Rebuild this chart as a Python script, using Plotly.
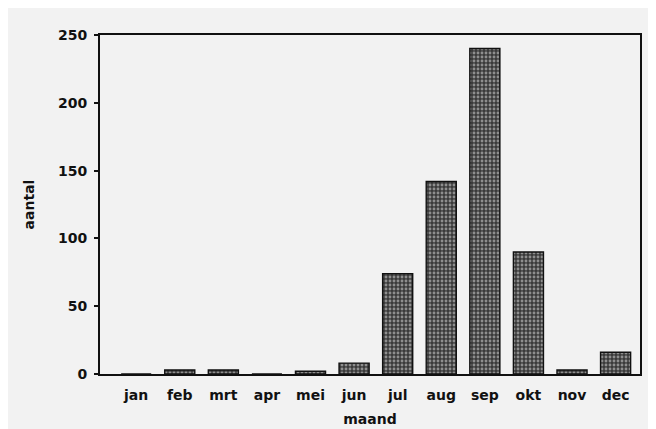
import plotly.graph_objects as go

months = ["jan", "feb", "mrt", "apr", "mei", "jun", "jul", "aug", "sep", "okt", "nov", "dec"]
values = [0, 3, 3, 0, 2, 8, 74, 142, 240, 90, 3, 16]
y_ticks = [0, 50, 100, 150, 200, 250]

font_family = "DejaVu Sans, Liberation Sans, Arial, sans-serif"

fig = go.Figure(
    go.Bar(
        x=months,
        y=values,
        width=0.69,
        marker=dict(
            color="#3a3a3a",
            line=dict(color="#111111", width=1.4),
            pattern=dict(shape=".", fgcolor="#e4e4e4", size=4, solidity=0.4, fillmode="overlay"),
        ),
    )
)

fig.update_layout(
    width=648,
    height=421,
    margin=dict(l=92, r=16, t=27, b=55),
    paper_bgcolor="#f2f2f2",
    plot_bgcolor="#f2f2f2",
    showlegend=False,
    font=dict(family=font_family, size=14, color="#111111", weight="bold"),
)

fig.update_xaxes(
    range=[-0.83, 11.56],
    automargin=False,
    showline=True, linecolor="#111111", linewidth=1.8, mirror=True,
    showgrid=False, ticks="", ticklabelstandoff=7,
    title=dict(text="maand", standoff=12, font=dict(size=14, weight="bold")),
    tickfont=dict(size=14, weight="bold"),
)

fig.update_yaxes(
    range=[0, 250],
    tickvals=y_ticks,
    automargin=False,
    showline=True, linecolor="#111111", linewidth=1.8, mirror=True,
    showgrid=False, zeroline=False,
    ticks="outside", ticklen=4, tickwidth=1.5, tickcolor="#111111",
    ticklabelstandoff=4,
    tickfont=dict(size=14, weight="bold"),
    title=dict(text="aantal", standoff=20, font=dict(size=14, weight="bold")),
)

fig.write_html("out.html")
